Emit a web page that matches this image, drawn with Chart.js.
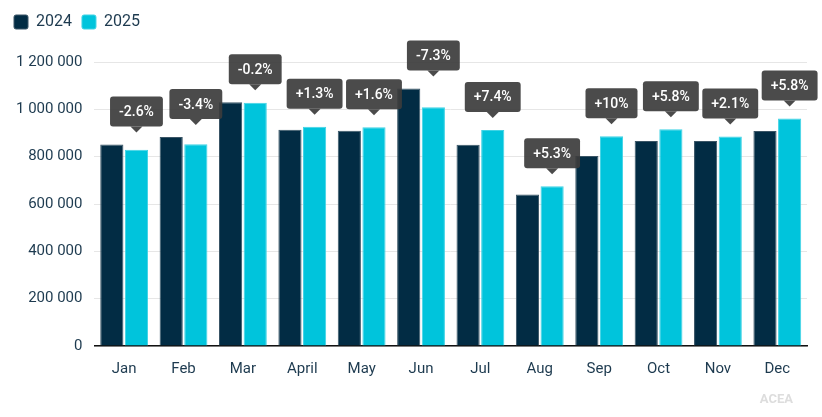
<!DOCTYPE html>
<html>
<head>
<meta charset="utf-8">
<script src="https://cdn.jsdelivr.net/npm/chart.js@4"></script>
<style>
  body { margin: 0; background: #fff; }
  #wrap { width: 822px; height: 417px; position: relative; }
</style>
</head>
<body>
<div id="wrap"><canvas id="salesChart"></canvas></div>
<script>
const months = ["Jan", "Feb", "Mar", "April", "May", "Jun", "Jul", "Aug", "Sep", "Oct", "Nov", "Dec"];
const sales2024 = [851000, 883000, 1030000, 914000, 909000, 1088000, 850000, 640000, 803000, 866000, 866000, 908000];
const sales2025 = [829000, 852000, 1028000, 926000, 924000, 1009000, 913000, 675000, 886000, 916000, 885000, 961000];
const changeLabels = ["-2.6%", "-3.4%", "-0.2%", "+1.3%", "+1.6%", "-7.3%", "+7.4%", "+5.3%", "+10%", "+5.8%", "+2.1%", "+5.8%"];
const yTicks = [0, 200000, 400000, 600000, 800000, 1000000, 1200000];

const textColor = "#1d3a4f";

// Extra room between the legend and the plot
const legendSpacing = {
  id: "legendSpacing",
  beforeInit(chart) {
    const fit = chart.legend.fit;
    chart.legend.fit = function () {
      fit.bind(chart.legend)();
      this.height += 22;
    };
  },
};

// Draws the grey % change callouts above each month pair
const calloutPlugin = {
  id: "callouts",
  afterDatasetsDraw(chart) {
    const ctx = chart.ctx;
    const meta24 = chart.getDatasetMeta(0);
    const meta25 = chart.getDatasetMeta(1);
    ctx.save();
    ctx.font = "500 14px Roboto";
    ctx.textAlign = "center";
    ctx.textBaseline = "middle";
    changeLabels.forEach((label, i) => {
      const bar24 = meta24.data[i];
      const bar25 = meta25.data[i];
      const x = bar25.x;
      const tipY = Math.min(bar24.y, bar25.y) - 12;
      const w = ctx.measureText(label).width + 18;
      const h = 30;
      const top = tipY - 6 - h;
      ctx.fillStyle = "rgba(60, 60, 60, 0.92)";
      ctx.beginPath();
      ctx.roundRect(x - w / 2, top, w, h, 3);
      ctx.fill();
      ctx.beginPath();
      ctx.moveTo(x - 6, top + h);
      ctx.lineTo(x + 6, top + h);
      ctx.lineTo(x, tipY);
      ctx.closePath();
      ctx.fill();
      ctx.fillStyle = "#ffffff";
      ctx.fillText(label, x, top + h / 2 + 1);
    });

    // source credit
    ctx.font = "bold 13px Roboto";
    ctx.fillStyle = "#dddddd";
    ctx.textAlign = "right";
    ctx.fillText("ACEA", chart.chartArea.right - 14, 400);
    ctx.restore();
  },
};

new Chart(document.getElementById("salesChart"), {
  type: "bar",
  data: {
    labels: months,
    datasets: [
      {
        label: "2024",
        data: sales2024,
        backgroundColor: "#022c44",
        borderColor: "#3a5566",
        borderWidth: 1,
        categoryPercentage: 0.83,
        barPercentage: 0.94,
      },
      {
        label: "2025",
        data: sales2025,
        backgroundColor: "#00c4dc",
        borderColor: "#3fd3e5",
        borderWidth: 1,
        categoryPercentage: 0.83,
        barPercentage: 0.94,
      },
    ],
  },
  options: {
    responsive: true,
    maintainAspectRatio: false,
    animation: false,
    layout: {
      padding: { top: 4, right: 15, bottom: 33, left: 4 },
    },
    plugins: {
      legend: {
        position: "top",
        align: "start",
        labels: {
          boxWidth: 14,
          boxHeight: 14,
          useBorderRadius: true,
          borderRadius: 2,
          padding: 10,
          color: textColor,
          font: { family: "Roboto", size: 16 },
        },
      },
      tooltip: { enabled: false },
    },
    scales: {
      x: {
        grid: { display: false },
        border: { color: "#111111", width: 1.5 },
        ticks: {
          color: textColor,
          font: { family: "Roboto", size: 15 },
          padding: 6,
        },
      },
      y: {
        min: 0,
        max: 1200000,
        afterBuildTicks: (axis) => {
          axis.ticks = yTicks.map((v) => ({ value: v }));
        },
        grid: { color: "#e6e6e6", drawTicks: false },
        border: { display: false },
        ticks: {
          color: textColor,
          font: { family: "Roboto", size: 15 },
          padding: 12,
          callback: (value) => value.toLocaleString("en-US").replace(/,/g, " "),
        },
      },
    },
  },
  plugins: [legendSpacing, calloutPlugin],
});
</script>
</body>
</html>
